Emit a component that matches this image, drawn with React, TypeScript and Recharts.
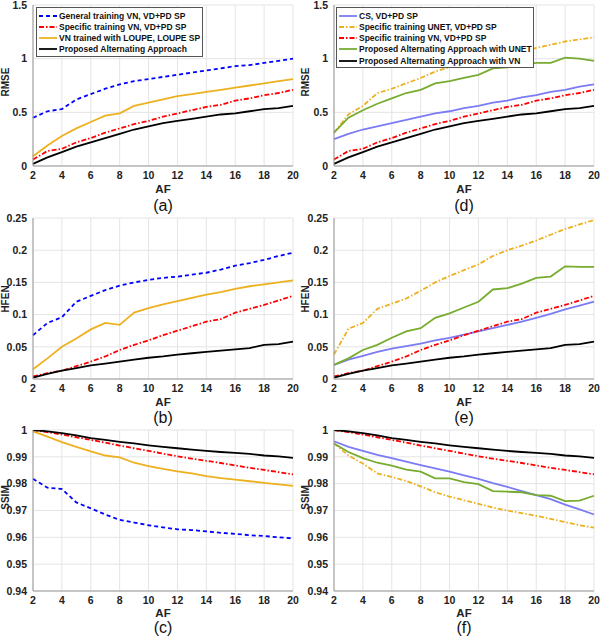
import React from 'react';
import { LineChart, Line, XAxis, YAxis, CartesianGrid, Legend } from 'recharts';

// ---------- data ----------
const AF = [2, 3, 4, 5, 6, 7, 8, 9, 10, 11, 12, 13, 14, 15, 16, 17, 18, 19, 20];
const X_TICKS = [2, 4, 6, 8, 10, 12, 14, 16, 18, 20];

const RMSE_TICKS = [0, 0.5, 1, 1.5];
const HFEN_TICKS = [0, 0.05, 0.1, 0.15, 0.2, 0.25];
const SSIM_TICKS = [0.94, 0.95, 0.96, 0.97, 0.98, 0.99, 1];

// RMSE
const rmseGeneralVN = [0.45, 0.51, 0.53, 0.62, 0.67, 0.72, 0.76, 0.79, 0.81, 0.83, 0.85, 0.87, 0.89, 0.91, 0.93, 0.94, 0.96, 0.98, 1.0];
const rmseSpecificVN = [0.06, 0.14, 0.16, 0.22, 0.26, 0.31, 0.35, 0.39, 0.42, 0.46, 0.49, 0.52, 0.55, 0.57, 0.61, 0.63, 0.66, 0.68, 0.71];
const rmseLoupe = [0.09, 0.19, 0.28, 0.35, 0.41, 0.47, 0.49, 0.56, 0.59, 0.62, 0.65, 0.67, 0.69, 0.71, 0.73, 0.75, 0.77, 0.79, 0.81];
const rmseProposedVN = [0.02, 0.08, 0.13, 0.18, 0.22, 0.26, 0.30, 0.34, 0.37, 0.40, 0.42, 0.44, 0.46, 0.48, 0.49, 0.51, 0.53, 0.54, 0.56];
const rmseCS = [0.25, 0.30, 0.34, 0.37, 0.40, 0.43, 0.46, 0.49, 0.51, 0.54, 0.56, 0.59, 0.61, 0.64, 0.66, 0.69, 0.71, 0.74, 0.76];
const rmseSpecificUNET = [0.31, 0.48, 0.56, 0.68, 0.72, 0.77, 0.82, 0.88, 0.92, 0.95, 0.98, 1.0, 1.03, 1.06, 1.1, 1.13, 1.16, 1.18, 1.2];
const rmseProposedUNET = [0.31, 0.45, 0.52, 0.58, 0.63, 0.68, 0.71, 0.77, 0.79, 0.82, 0.85, 0.91, 0.92, 0.94, 0.96, 0.96, 1.01, 1.0, 0.98];

// HFEN
const hfenGeneralVN = [0.068, 0.087, 0.096, 0.12, 0.129, 0.138, 0.145, 0.15, 0.154, 0.157, 0.159, 0.162, 0.165, 0.17, 0.176, 0.18, 0.185, 0.191, 0.196];
const hfenSpecificVN = [0.004, 0.009, 0.013, 0.02, 0.027, 0.035, 0.045, 0.053, 0.06, 0.068, 0.075, 0.082, 0.089, 0.093, 0.103, 0.109, 0.115, 0.122, 0.129];
const hfenLoupe = [0.015, 0.032, 0.05, 0.063, 0.077, 0.087, 0.084, 0.103, 0.11, 0.116, 0.121, 0.126, 0.131, 0.135, 0.14, 0.144, 0.147, 0.15, 0.153];
const hfenProposedVN = [0.002, 0.008, 0.013, 0.017, 0.021, 0.024, 0.027, 0.03, 0.033, 0.035, 0.038, 0.04, 0.042, 0.044, 0.046, 0.048, 0.053, 0.054, 0.058];
const hfenCS = [0.022, 0.03, 0.036, 0.042, 0.047, 0.051, 0.055, 0.06, 0.064, 0.069, 0.074, 0.079, 0.084, 0.089, 0.095, 0.101, 0.108, 0.114, 0.12];
const hfenSpecificUNET = [0.038, 0.078, 0.087, 0.109, 0.117, 0.125, 0.137, 0.15, 0.16, 0.169, 0.178, 0.191, 0.2, 0.207, 0.215, 0.224, 0.233, 0.24, 0.247];
const hfenProposedUNET = [0.022, 0.032, 0.045, 0.053, 0.064, 0.074, 0.079, 0.095, 0.102, 0.111, 0.12, 0.139, 0.141, 0.148, 0.157, 0.159, 0.175, 0.174, 0.174];

// SSIM
const ssimGeneralVN = [0.9818, 0.9785, 0.978, 0.973, 0.9708, 0.9685, 0.9665, 0.9655, 0.9645, 0.9637, 0.963, 0.9627, 0.9622, 0.9617, 0.9613, 0.9608, 0.9605, 0.96, 0.9596];
const ssimSpecificVN = [1.0, 0.9992, 0.9983, 0.9973, 0.9963, 0.9953, 0.9942, 0.9932, 0.9922, 0.9912, 0.9902, 0.9893, 0.9885, 0.9877, 0.9868, 0.9859, 0.9851, 0.9843, 0.9835];
const ssimLoupe = [0.9995, 0.9975, 0.9955, 0.9937, 0.992, 0.9905, 0.9898, 0.9878, 0.9865, 0.9855, 0.9846, 0.9838, 0.9828, 0.9821, 0.9815, 0.9809, 0.9803, 0.9797, 0.9792];
const ssimProposedVN = [1.0, 0.9995, 0.9988, 0.998, 0.997, 0.9963, 0.9956, 0.995, 0.9943, 0.9937, 0.9932, 0.9927, 0.9922, 0.9918, 0.9915, 0.9911, 0.9905, 0.9902, 0.9896];
const ssimCS = [0.9958, 0.9937, 0.9922, 0.9907, 0.9895, 0.9882, 0.9869, 0.9857, 0.9845, 0.9831, 0.9818, 0.9802, 0.9788, 0.9772, 0.9757, 0.9742, 0.9722, 0.9704, 0.9685];
const ssimSpecificUNET = [0.995, 0.9905, 0.9875, 0.9838, 0.9825, 0.981, 0.979, 0.9768, 0.9752, 0.9738, 0.9725, 0.9711, 0.97, 0.969, 0.968, 0.9669, 0.9657, 0.9645, 0.9636];
const ssimProposedUNET = [0.995, 0.9918, 0.9895, 0.9878, 0.9867, 0.9852, 0.9845, 0.982, 0.982, 0.9806, 0.9798, 0.9772, 0.977, 0.9768, 0.9757, 0.9755, 0.9735, 0.9737, 0.9755];

// ---------- styles ----------
const BLUE = '#0000ff';
const RED = '#ff0000';
const YEL = '#EDB120';
const BLK = '#000000';
const CSC = '#7b7bf5';
const GRN = '#77AC30';
const DASH = '4 3';
const DASHDOT = '5 2 1.5 2';

type Series = { key: string; name: string; color: string; dash?: string; values: number[] };

const leftSeries = (g: number[], s: number[], l: number[], p: number[]): Series[] => [
  { key: 'g', name: 'General training VN, VD+PD SP', color: BLUE, dash: DASH, values: g },
  { key: 's', name: 'Specific training VN, VD+PD SP', color: RED, dash: DASHDOT, values: s },
  { key: 'l', name: 'VN trained with LOUPE, LOUPE SP', color: YEL, values: l },
  { key: 'p', name: 'Proposed Alternating Approach', color: BLK, values: p },
];
const rightSeries = (c: number[], u: number[], s: number[], pu: number[], p: number[]): Series[] => [
  { key: 'c', name: 'CS, VD+PD SP', color: CSC, values: c },
  { key: 'u', name: 'Specific training UNET, VD+PD SP', color: YEL, dash: DASHDOT, values: u },
  { key: 's', name: 'Specific training VN, VD+PD SP', color: RED, dash: DASHDOT, values: s },
  { key: 'pu', name: 'Proposed Alternating Approach with UNET', color: GRN, values: pu },
  { key: 'p', name: 'Proposed Alternating Approach with VN', color: BLK, values: p },
];

const FONT = '"Liberation Sans", Arial, Helvetica, sans-serif';
const TICK = { fill: '#222', fontSize: 10.5, fontWeight: 700, fontFamily: FONT };
const AXC = '#999';

type PanelProps = {
  left: number;
  top: number;
  plotLeft: number;
  marginTop: number;
  yLabel: string;
  yLabelY: number;
  sub: string;
  afY: number;
  subY: number;
  domain: [number, number];
  ticks: number[];
  series: Series[];
  legend?: { left: number; top: number; width: number };
};

const PLOT_W = 260;
const PLOT_H = 161;

function LegendBox({ items }: { items: Series[] }) {
  return (
    <div
      style={{
        background: '#fff',
        border: '1px solid #555',
        padding: '2px 0 1px 0',
        fontFamily: FONT,
        fontSize: 8.5,
        fontWeight: 700,
        color: '#111',
        boxSizing: 'border-box',
      }}
    >
      {items.map((it) => (
        <div key={it.key} style={{ display: 'flex', alignItems: 'center', height: 11.25, whiteSpace: 'nowrap' }}>
          <svg width={22} height={6} style={{ flex: 'none' }}>
            <line x1={2} y1={3} x2={20} y2={3} stroke={it.color} strokeWidth={1.8} strokeDasharray={it.dash} />
          </svg>
          <span>{it.name}</span>
        </div>
      ))}
    </div>
  );
}

function Panel(p: PanelProps) {
  const data = AF.map((af, i) => {
    const row: Record<string, number> = { af };
    p.series.forEach((s) => {
      row[s.key] = s.values[i];
    });
    return row;
  });
  const bottom = 210 - p.marginTop - PLOT_H;
  const cx = p.plotLeft + PLOT_W / 2;
  return (
    <div style={{ position: 'absolute', left: p.left, top: p.top, width: 300, height: 216 }}>
      <LineChart
        width={300}
        height={210}
        data={data}
        margin={{ top: p.marginTop, right: 300 - p.plotLeft - PLOT_W, bottom: bottom - 20, left: 0 }}
      >
        <CartesianGrid stroke="#e4e4e4" strokeWidth={1} />
        <XAxis
          dataKey="af"
          type="number"
          domain={[2, 20]}
          ticks={X_TICKS}
          height={20}
          tick={TICK}
          tickLine={false}
          tickSize={3}
          tickMargin={3}
          axisLine={{ stroke: AXC }}
          interval={0}
        />
        <XAxis xAxisId="top" dataKey="af" type="number" domain={[2, 20]} orientation="top" height={0} tick={false} tickLine={false} axisLine={{ stroke: AXC }} />
        <YAxis
          type="number"
          domain={p.domain}
          ticks={p.ticks}
          width={p.plotLeft}
          tick={TICK}
          tickLine={false}
          tickSize={3}
          tickMargin={3}
          axisLine={{ stroke: AXC }}
          interval={0}
          allowDataOverflow
          tickFormatter={(v: number) => String(v)}
        />
        <YAxis yAxisId="right" type="number" domain={p.domain} orientation="right" width={0} tick={false} tickLine={false} axisLine={{ stroke: AXC }} />
        {p.series.map((s) => (
          <Line
            key={s.key}
            dataKey={s.key}
            type="linear"
            stroke={s.color}
            strokeWidth={1.8}
            strokeDasharray={s.dash}
            dot={false}
            activeDot={false}
            isAnimationActive={false}
          />
        ))}
        {p.legend && (
          <Legend
            layout="vertical"
            align="center"
            verticalAlign="middle"
            wrapperStyle={{ position: 'absolute', left: p.legend.left, top: p.legend.top, width: p.legend.width, height: 'auto' }}
            content={() => <LegendBox items={p.series} />}
          />
        )}
      </LineChart>
      <svg width={300} height={216} style={{ position: 'absolute', left: 0, top: 0, pointerEvents: 'none', overflow: 'visible' }}>
        <text
          x={cx}
          y={p.afY}
          textAnchor="middle"
          dominantBaseline="central"
          fontFamily={FONT}
          fontWeight={700}
          fontSize={11.5}
          fill="#222"
        >
          AF
        </text>
        <text
          transform={`translate(5, ${p.yLabelY}) rotate(-90)`}
          textAnchor="middle"
          dominantBaseline="central"
          fontFamily={FONT}
          fontWeight={700}
          fontSize={10}
          fill="#222"
        >
          {p.yLabel}
        </text>
        <text
          x={cx}
          y={p.subY}
          textAnchor="middle"
          dominantBaseline="central"
          fontFamily={FONT}
          fontSize={16}
          fill="#111"
        >
          {p.sub}
        </text>
      </svg>
    </div>
  );
}

export default function App() {
  const lRmse = leftSeries(rmseGeneralVN, rmseSpecificVN, rmseLoupe, rmseProposedVN);
  const lHfen = leftSeries(hfenGeneralVN, hfenSpecificVN, hfenLoupe, hfenProposedVN);
  const lSsim = leftSeries(ssimGeneralVN, ssimSpecificVN, ssimLoupe, ssimProposedVN);
  const rRmse = rightSeries(rmseCS, rmseSpecificUNET, rmseSpecificVN, rmseProposedUNET, rmseProposedVN);
  const rHfen = rightSeries(hfenCS, hfenSpecificUNET, hfenSpecificVN, hfenProposedUNET, hfenProposedVN);
  const rSsim = rightSeries(ssimCS, ssimSpecificUNET, ssimSpecificVN, ssimProposedUNET, ssimProposedVN);
  return (
    <div style={{ position: 'absolute', left: 0, top: 0, width: 600, height: 636, background: '#fff', overflow: 'hidden' }}>
      <Panel left={0} top={0} plotLeft={33} marginTop={5} yLabel="RMSE" yLabelY={82} sub="(a)" afY={189} subY={205} domain={[0, 1.5]} ticks={RMSE_TICKS} series={lRmse} legend={{ left: 36, top: 7, width: 167 }} />
      <Panel left={300} top={0} plotLeft={34} marginTop={5} yLabel="RMSE" yLabelY={82} sub="(d)" afY={189} subY={205} domain={[0, 1.5]} ticks={RMSE_TICKS} series={rRmse} legend={{ left: 36, top: 7, width: 198 }} />
      <Panel left={0} top={210} plotLeft={33} marginTop={8} yLabel="HFEN" yLabelY={89} sub="(b)" afY={192} subY={207} domain={[0, 0.25]} ticks={HFEN_TICKS} series={lHfen} />
      <Panel left={300} top={210} plotLeft={34} marginTop={8} yLabel="HFEN" yLabelY={89} sub="(e)" afY={192} subY={207} domain={[0, 0.25]} ticks={HFEN_TICKS} series={rHfen} />
      <Panel left={0} top={420} plotLeft={33} marginTop={10} yLabel="SSIM" yLabelY={77.5} sub="(c)" afY={193} subY={207} domain={[0.94, 1]} ticks={SSIM_TICKS} series={lSsim} />
      <Panel left={300} top={420} plotLeft={34} marginTop={10} yLabel="SSIM" yLabelY={77.5} sub="(f)" afY={193} subY={207} domain={[0.94, 1]} ticks={SSIM_TICKS} series={rSsim} />
    </div>
  );
}
